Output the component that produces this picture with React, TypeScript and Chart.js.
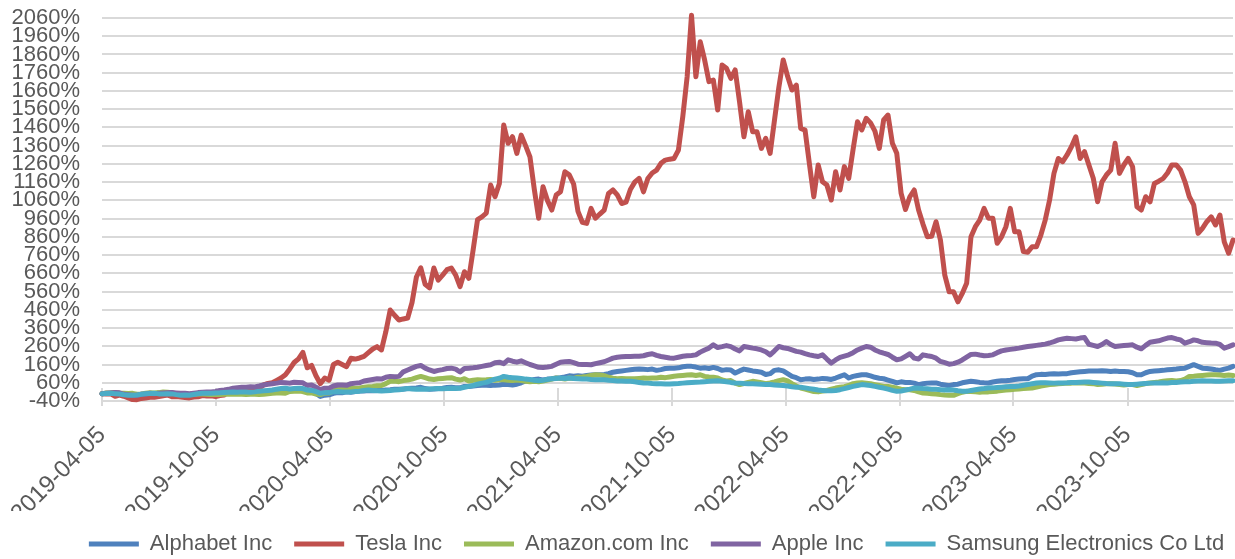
import React, { useEffect, useRef } from "react";
import { Chart, registerables } from "chart.js";

Chart.register(...registerables);

// ---- data ----
const startDate = "2019-04-05";
const weekCount = 260; // weekly observations from 2019-04-05

const tickLabels = [
  "2019-04-05", "2019-10-05", "2020-04-05", "2020-10-05", "2021-04-05",
  "2021-10-05", "2022-04-05", "2022-10-05", "2023-04-05", "2023-10-05",
];

const seriesNames = ["Alphabet Inc", "Tesla Inc", "Amazon.com Inc", "Apple Inc", "Samsung Electronics Co Ltd"];
const seriesColors = ["#4F81BD", "#C0504D", "#9BBB59", "#8064A2", "#4BACC6"];

const alphabet = [
  0, 2, 2, 4, -5, -6, -5, -6, -8, -12,
  -9, -8, -9, -7, -6, -5, 2, -1, -3, -3,
  -4, -2, -1, 0, 0, -1, 0, 1, 3, 5,
  4, 7, 9, 8, 7, 9, 10, 11, 10, 13,
  16, 19, 20, 18, 22, 25, 23, 10, 12, 2,
  -15, -8, -6, 2, 7, 5, 10, 8, 12, 15,
  15, 17, 16, 18, 17, 20, 22, 25, 24, 26,
  28, 30, 31, 35, 28, 25, 26, 28, 30, 34,
  35, 33, 32, 40, 40, 42, 45, 46, 46, 45,
  47, 48, 52, 50, 48, 52, 60, 70, 72, 78,
  80, 76, 80, 82, 86, 88, 92, 98, 96, 98,
  96, 100, 102, 104, 104, 106, 110, 118, 122, 125,
  128, 131, 134, 135, 134, 132, 135, 128, 132, 138,
  140, 140, 142, 148, 150, 150, 146, 140, 142, 138,
  144, 138, 128, 132, 130, 113, 125, 135, 130, 125,
  122, 118, 105, 110, 128, 131, 125, 110, 95, 88,
  77, 80, 82, 78, 80, 84, 82, 78, 86, 95,
  104, 86, 95, 100, 104, 104, 98, 90, 85, 82,
  75, 68, 59, 65, 62, 62, 58, 50, 55, 58,
  59, 59, 52, 48, 44, 50, 52, 60, 64, 68,
  66, 62, 60, 59, 64, 68, 71, 71, 74, 78,
  80, 82, 82, 96, 104, 106, 105, 108, 110, 108,
  110, 110, 115, 118, 120, 122, 124, 125, 124, 126,
  125, 122, 124, 122, 122, 120, 115, 104, 104, 115,
  122, 124, 126, 128, 131, 133, 135, 138, 140, 150,
  159, 150, 140, 138, 135, 131, 128, 135, 140, 150,
];

const tesla = [
  0, -1, -1, -14, -7, -14, -23, -32, -33, -26,
  -23, -20, -19, -16, -11, -7, -17, -16, -18, -21,
  -23, -18, -17, -10, -13, -12, -16, -10, -7, 19,
  14, 22, 28, 21, 20, 22, 30, 48, 56, 60,
  73, 86, 104, 136, 171, 191, 227, 142, 155, 98,
  55, 86, 74, 160, 172, 160, 148, 194, 190, 196,
  205, 225, 245, 258, 240, 340, 459, 430, 404, 410,
  415, 500, 640, 690, 600, 580, 689, 623, 650, 680,
  689, 650, 587, 669, 633, 790, 955, 970, 990, 1144,
  1080, 1153, 1473, 1373, 1409, 1318, 1418, 1360, 1299, 1120,
  962, 1135, 1060, 1007, 1089, 1107, 1217, 1200, 1150, 1000,
  940, 934, 1016, 962, 985, 1007, 1098, 1117, 1090, 1043,
  1050, 1120, 1160, 1181, 1107, 1180, 1210, 1226, 1263, 1281,
  1286, 1290, 1336, 1519, 1738, 2075, 1738, 1930, 1830, 1711,
  1720, 1555, 1802, 1784, 1729, 1775, 1600, 1409, 1546, 1436,
  1436, 1345, 1400, 1318, 1500, 1680, 1830, 1740, 1665, 1692,
  1455, 1445, 1260, 1080, 1254, 1162, 1144, 1062, 1217, 1117,
  1245, 1181, 1340, 1491, 1446, 1510, 1485, 1440, 1345, 1501,
  1528, 1373, 1318, 1098, 1010, 1080, 1117, 1007, 930, 861,
  863, 943, 843, 650, 559, 559, 504, 550, 605, 861,
  916, 952, 1016, 962, 962, 825, 860, 916, 1016, 888,
  888, 779, 776, 806, 806, 870, 952, 1062, 1208, 1290,
  1272, 1309, 1354, 1409, 1290, 1327, 1254, 1181, 1052, 1162,
  1199, 1226, 1373, 1208, 1254, 1290, 1245, 1025, 1007, 1080,
  1052, 1153, 1165, 1180, 1210, 1254, 1254, 1226, 1162, 1080,
  1035, 879, 907, 943, 970, 925, 980, 833, 770, 843,
];

const amazon = [
  0, 4, 5, 7, 4, 3, 1, 2, -3, -1,
  3, 5, 4, 6, 9, 8, 5, -1, -3, -2,
  -4, -3, -2, -1, -3, -5, -5, -4, -3, -3,
  -3, -2, -3, -4, -3, -3, -4, -3, 0, 3,
  4, 4, 3, 12, 14, 15, 12, 4, 5, -2,
  -5, 3, 4, 15, 25, 27, 25, 28, 30, 32,
  35, 38, 40, 44, 45, 55, 68, 70, 66, 72,
  75, 80, 88, 95, 88, 80, 78, 82, 84, 86,
  88, 80, 75, 82, 70, 74, 76, 75, 76, 78,
  74, 76, 77, 74, 72, 75, 72, 68, 65, 68,
  66, 70, 75, 80, 86, 84, 80, 86, 84, 90,
  92, 95, 100, 104, 102, 99, 90, 85, 82, 84,
  82, 82, 82, 84, 86, 85, 86, 86, 90, 88,
  92, 96, 98, 100, 102, 104, 100, 104, 95, 92,
  90, 86, 75, 70, 72, 58, 50, 56, 62, 68,
  64, 60, 55, 59, 65, 72, 77, 70, 55, 42,
  31, 25, 18, 12, 10, 14, 18, 25, 31, 35,
  38, 45, 55, 59, 60, 58, 55, 50, 45, 40,
  40, 35, 30, 25, 22, 22, 18, 10, 4, 2,
  0, -2, -5, -7, -8, -9, 0, 8, 13, 12,
  10, 8, 10, 10, 12, 14, 18, 20, 22, 25,
  26, 28, 30, 31, 36, 42, 46, 50, 52, 55,
  56, 58, 58, 60, 59, 59, 56, 55, 50, 52,
  55, 54, 53, 50, 48, 50, 50, 45, 50, 56,
  59, 62, 64, 68, 71, 72, 70, 72, 80, 95,
  96, 98, 100, 102, 104, 104, 102, 100, 102, 100,
];

const apple = [
  0, 2, 4, 6, 5, -3, -5, -8, -9, -3,
  -2, 2, 0, 3, 4, 5, 6, 4, 2, 2,
  0, 3, 6, 8, 10, 10, 12, 18, 20, 24,
  30, 33, 35, 36, 38, 37, 42, 48, 52, 55,
  58, 62, 60, 58, 63, 62, 60, 45, 48, 35,
  22, 30, 30, 42, 48, 48, 46, 55, 58, 60,
  70, 74, 78, 82, 80, 90, 95, 93, 95, 120,
  130, 140, 150, 155, 140, 130, 122, 128, 132, 138,
  140, 135, 119, 138, 140, 142, 145, 150, 155, 159,
  170, 173, 165, 186, 178, 173, 180, 170, 160, 153,
  145, 144, 146, 150, 162, 173, 175, 177, 170, 162,
  160, 160, 159, 165, 170, 175, 185, 195, 200, 202,
  204, 204, 205, 206, 208, 215, 219, 210, 204, 200,
  196, 195, 200, 205, 208, 210, 213, 228, 240, 250,
  268, 253, 258, 264, 258, 245, 235, 259, 255, 250,
  246, 240, 230, 213, 235, 259, 252, 248, 240, 232,
  228, 220, 213, 208, 204, 213, 190, 168, 185, 199,
  206, 213, 225, 240, 250, 259, 255, 240, 230, 222,
  215, 200, 186, 191, 205, 219, 195, 190, 213, 208,
  204, 195, 177, 170, 162, 165, 173, 185, 200, 215,
  217, 212, 208, 210, 213, 225, 235, 240, 243, 246,
  250, 255, 259, 262, 265, 268, 272, 278, 286, 295,
  300, 304, 302, 300, 305, 308, 271, 265, 259, 270,
  286, 270, 259, 262, 264, 266, 268, 255, 246, 265,
  282, 286, 290, 298, 305, 308, 300, 295, 277, 285,
  295, 290, 282, 280, 278, 277, 270, 250, 258, 268,
];

const samsung = [
  0, 1, 2, 0, -2, -6, -8, -9, -7, -3,
  0, 1, 2, -1, -2, 0, -1, -5, -8, -7,
  -8, -4, 0, 3, 2, 3, 4, 5, 7, 8,
  9, 8, 10, 9, 8, 10, 14, 16, 18, 20,
  25, 28, 30, 26, 28, 30, 28, 20, 18, 12,
  2, 5, 6, 10, 12, 10, 9, 10, 12, 14,
  18, 20, 18, 16, 15, 16, 18, 20, 22, 25,
  28, 26, 24, 26, 25, 26, 27, 28, 27, 28,
  30, 29, 30, 35, 40, 45, 52, 58, 62, 72,
  80, 85, 95, 90, 88, 86, 84, 80, 78, 74,
  71, 74, 78, 82, 84, 86, 84, 86, 84, 82,
  80, 80, 78, 77, 76, 77, 74, 72, 70, 69,
  68, 68, 65, 62, 59, 58, 56, 55, 54, 53,
  53, 55, 56, 58, 60, 62, 63, 64, 66, 68,
  70, 71, 68, 66, 62, 59, 58, 56, 55, 54,
  53, 52, 51, 50, 48, 46, 45, 42, 38, 36,
  35, 32, 28, 24, 20, 18, 16, 16, 18, 22,
  28, 34, 40, 45, 50, 48, 45, 40, 35, 31,
  25, 18, 13, 15, 20, 25, 31, 30, 28, 27,
  25, 24, 22, 20, 22, 20, 16, 14, 13, 18,
  22, 26, 28, 31, 32, 34, 36, 38, 39, 40,
  42, 46, 50, 55, 59, 60, 60, 59, 58, 59,
  59, 60, 62, 62, 63, 64, 64, 62, 60, 58,
  56, 55, 55, 54, 52, 50, 50, 52, 54, 56,
  58, 59, 59, 60, 59, 61, 62, 64, 65, 66,
  68, 70, 71, 70, 69, 68, 68, 70, 71, 71,
];

const seriesValues = [alphabet, tesla, amazon, apple, samsung];

const yMin = -40;
const yMax = 2060;
const yStep = 100;

// ---- helpers ----
const DAY_MS = 86400000;
const dayOf = (s: string) =>
  (Date.parse(s + "T00:00:00Z") - Date.parse(startDate + "T00:00:00Z")) / DAY_MS;
const weekDays = Array.from({ length: weekCount }, (_, i) => i * 7);
const tickDays = tickLabels.map(dayOf);

const FONT = "'Liberation Sans', Arial, sans-serif";
const TEXT = "#595959";
const GRID = "#D9D9D9";
const LEGEND_SHIFT = 40;

const crossTicks = {
  id: "crossTicks",
  beforeDatasetsDraw(chart: any) {
    const { ctx, chartArea, scales } = chart;
    const xs = scales.x;
    ctx.save();
    ctx.strokeStyle = GRID;
    ctx.lineWidth = 2;
    xs.ticks.forEach((t: any) => {
      const x = Math.round(xs.getPixelForValue(t.value));
      ctx.beginPath();
      ctx.moveTo(x, chartArea.bottom - 13);
      ctx.lineTo(x, chartArea.bottom + 5);
      ctx.stroke();
    });
    ctx.restore();
  },
};

const legendShift = {
  id: "legendShift",
  afterLayout(chart: any) {
    const lg = chart.legend;
    if (lg) {
      lg.left += LEGEND_SHIFT;
      lg.right += LEGEND_SHIFT;
    }
  },
};

export default function App() {
  const canvasRef = useRef<HTMLCanvasElement | null>(null);

  useEffect(() => {
    if (!canvasRef.current) return;
    const chart = new Chart(canvasRef.current, {
      type: "line",
      data: {
        datasets: seriesNames.map((name, i) => ({
          label: name,
          data: seriesValues[i].map((v, j) => ({ x: weekDays[j], y: v })),
          borderColor: seriesColors[i],
          backgroundColor: seriesColors[i],
          borderWidth: 5,
          pointRadius: 0,
          pointHoverRadius: 0,
          borderCapStyle: "round",
          borderJoinStyle: "round",
          tension: 0,
          fill: false,
          clip: false,
          order: seriesNames.length - 1 - i,
        })),
      },
      options: {
        responsive: false,
        animation: false,
        devicePixelRatio: 1,
        layout: { padding: { left: 0, right: 2, top: 18, bottom: -6 } },
        plugins: {
          legend: {
            position: "bottom",
            labels: {
              usePointStyle: true,
              pointStyle: "line",
              pointStyleWidth: 50,
              padding: 22,
              color: TEXT,
              font: { family: FONT, size: 22 },
              sort: (a: any, b: any) => a.datasetIndex - b.datasetIndex,
            },
          },
          tooltip: { enabled: false },
        },
        scales: {
          x: {
            type: "linear",
            min: 0,
            max: weekDays[weekDays.length - 1],
            afterBuildTicks: (s: any) => {
              s.ticks = tickDays.map((v) => ({ value: v }));
            },
            afterFit: (s: any) => {
              s.height = 110;
              s.paddingLeft = 0;
              s.paddingRight = 0;
            },
            grid: { display: false },
            border: { display: true, color: GRID, width: 2 },
            ticks: {
              autoSkip: false,
              maxRotation: 45,
              minRotation: 45,
              padding: 12,
              color: TEXT,
              font: { family: FONT, size: 24 },
              callback: (_v: any, i: number) => tickLabels[i],
            },
          },
          y: {
            type: "linear",
            min: yMin,
            max: yMax,
            afterFit: (s: any) => {
              s.width = 102;
              s.paddingTop = 0;
              s.paddingBottom = 0;
            },
            grid: { color: GRID, lineWidth: 2, drawTicks: false },
            border: { display: false },
            ticks: {
              stepSize: yStep,
              autoSkip: false,
              padding: 22,
              color: TEXT,
              font: { family: FONT, size: 22 },
              callback: (v: any) => v + "%",
            },
          },
        },
      },
      plugins: [crossTicks, legendShift],
    } as any);
    return () => chart.destroy();
  }, []);

  return (
    <div style={{ position: "absolute", left: 0, top: 0, width: 1235, height: 559, background: "#fff" }}>
      <canvas ref={canvasRef} width={1235} height={559} style={{ display: "block" }} />
    </div>
  );
}
